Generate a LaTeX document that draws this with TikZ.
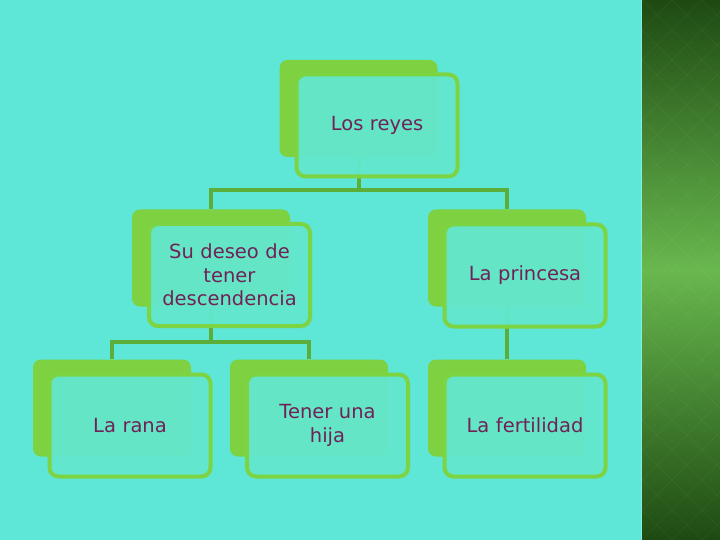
\documentclass[tikz,border=0pt]{standalone}
\usepackage{fontspec}
\setmainfont{DejaVu Sans}
\definecolor{bgc}{RGB}{94,230,214}
\definecolor{backg}{RGB}{126,209,64}
\definecolor{frameg}{RGB}{125,212,67}
\definecolor{frontf}{RGB}{99,232,206}
\definecolor{connc}{RGB}{92,174,58}
\definecolor{txt}{RGB}{112,34,88}
\definecolor{stripdark}{RGB}{30,74,18}
\definecolor{stripmid}{RGB}{104,184,78}
\tikzset{
  backbox/.style={fill=backg, draw=none, rounded corners=8pt, minimum width=158pt, minimum height=97pt, inner sep=0pt},
  frontbox/.style={fill=frontf, fill opacity=0.95, text opacity=1, draw=frameg, line width=4pt, rounded corners=9pt,
    minimum width=161pt, minimum height=102pt, inner sep=2pt, text=txt, align=center,
    font=\fontsize{19.5}{23.5}\selectfont, text width=150pt},
  conn/.style={draw=connc, line width=4pt}
}
\begin{document}
\begin{tikzpicture}[x=1pt,y=-1pt]
\useasboundingbox (0,0) rectangle (720,540);
\fill[bgc] (0,0) rectangle (720,540);
% right strip
\shade[top color=stripdark, bottom color=stripmid, shading=axis] (642,0) rectangle (720,270);
\shade[top color=stripmid, bottom color=stripdark] (642,270) rectangle (720,540.5);
\begin{scope}
\clip (642,0) rectangle (720,540);
\foreach \k in {-20,...,20}{
  \draw[white, opacity=0.04, line width=0.8pt] (642+\k*30,0) -- ++(540,540);
  \draw[white, opacity=0.04, line width=0.8pt] (642+\k*30,0) -- ++(-540,540);
}
\end{scope}
\draw[color={rgb,255:red,130;green,240;blue,225}, line width=1.5pt] (641.5,0) -- (641.5,540);

% back boxes
\node[backbox] (reyesB) at (358.5,108.5) {};
\node[backbox] (deseoB) at (211,258) {};
\node[backbox] (princesaB) at (507,258) {};
\node[backbox] (ranaB) at (112,408) {};
\node[backbox] (hijaB) at (309,408) {};
\node[backbox] (fertB) at (507,408) {};

% connectors
\coordinate (j1) at (358.5,190);
\coordinate (j2) at (211,342);
\draw[conn] (reyesB.south) -- (j1);
\draw[conn] (deseoB.north) |- (j1) -| (princesaB.north);
\draw[conn] (deseoB.south) -- (j2);
\draw[conn] (ranaB.north) |- (j2) -| (hijaB.north);
\draw[conn] (princesaB.south) -- (fertB.north);

% front boxes
\node[frontbox] (reyes) at (377,125.5) {Los reyes};
\node[frontbox] (deseo) at (229.5,275) {Su deseo de\\tener\\descendencia};
\node[frontbox] (princesa) at (525,275.5) {La princesa};
\node[frontbox] (rana) at (130,425.5) {La rana};
\node[frontbox] (hija) at (327.5,425.5) {Tener una\\hija};
\node[frontbox] (fert) at (525,425.5) {La fertilidad};
\end{tikzpicture}
\end{document}
